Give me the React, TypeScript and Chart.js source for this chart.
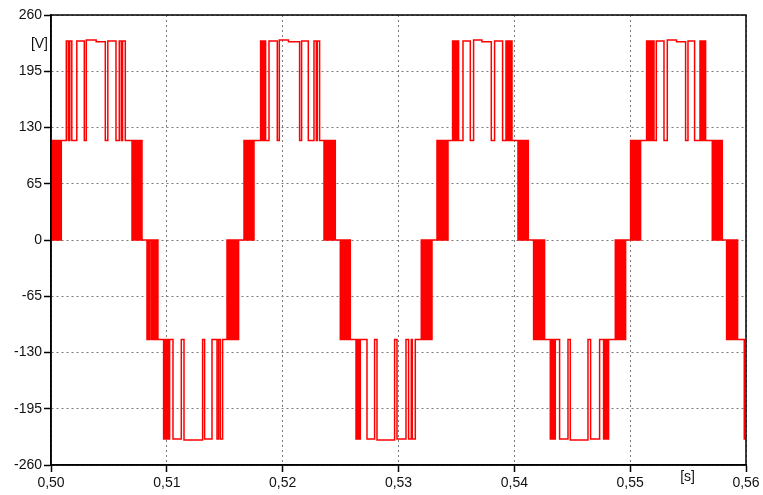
import React, { useEffect, useRef } from "react";
import { Chart, registerables } from "chart.js";

Chart.register(...registerables);

const xTicks = [0.5, 0.51, 0.52, 0.53, 0.54, 0.55, 0.56];
const yTicks = [-260, -195, -130, -65, 0, 65, 130, 195, 260];
const xUnit = "[s]";
const yUnit = "[V]";

type Step = [number, number]; // [time s, voltage V] – value holds from this time to the next

const positive1: Step[] = [
  [0.5, 0], [0.50001, 115], [0.50007, 0], [0.50012, 115], [0.50023, 0], [0.50027, 115], [0.50033, 0],
  [0.50038, 115], [0.50044, 0], [0.50049, 115], [0.5006, 0], [0.50064, 115], [0.5007, 0], [0.50074, 115],
  [0.5008, 0], [0.50083, 115], [0.50086, 0], [0.500889, 115],
  [0.501321, 230], [0.501494, 115], [0.501623, 230], [0.501796, 115],
  [0.502227, 230], [0.502875, 115], [0.503047, 231], [0.5039, 229], [0.504688, 115], [0.504904, 230],
  [0.505611, 115], [0.505896, 230], [0.506069, 115], [0.506181, 230], [0.506414, 115],
  [0.506993, 0], [0.50703, 115], [0.5071, 0], [0.50715, 115], [0.50723, 0], [0.50727, 115], [0.50736, 0],
  [0.5074, 115], [0.5075, 0], [0.50753, 115], [0.50764, 0], [0.50767, 115], [0.50779, 0], [0.50782, 115],
  [0.507856, 0],
];

const negative1: Step[] = [
  [0.508288, -115], [0.50833, 0], [0.50838, -115], [0.50843, 0], [0.50848, -115], [0.50852, 0],
  [0.50866, -115], [0.5087, 0], [0.50876, -115], [0.5088, 0], [0.50886, -115], [0.5089, 0], [0.50895, -115],
  [0.509, 0], [0.50904, -115], [0.50908, 0], [0.50914, -115], [0.50917, 0], [0.50923, -115],
  [0.509721, -230], [0.50977, -115], [0.50981, -230], [0.50987, -115], [0.50991, -230], [0.50997, -115],
  [0.51001, -230], [0.51007, -115], [0.51011, -230], [0.51017, -115], [0.5102, -230], [0.510239, -115],
  [0.510532, -230], [0.511249, -115], [0.511482, -231], [0.513088, -115], [0.51326, -230], [0.513899, -115],
  [0.514331, -230], [0.514469, -115], [0.514616, -230], [0.514814, -115],
  [0.515194, 0], [0.51524, -115], [0.51531, 0], [0.51535, -115], [0.51543, 0], [0.51547, -115], [0.51556, 0],
  [0.5156, -115], [0.5157, 0], [0.51573, -115], [0.51583, 0], [0.51586, -115], [0.51597, 0], [0.516, -115],
  [0.5161, 0], [0.51613, -115], [0.516196, 0],
];

const positive2: Step[] = [
  [0.516662, 115], [0.5167, 0], [0.51676, 115], [0.51681, 0], [0.51687, 115], [0.51692, 0], [0.51698, 115],
  [0.51702, 0], [0.5171, 115], [0.51714, 0], [0.51722, 115], [0.51726, 0], [0.51734, 115], [0.51737, 0],
  [0.51744, 115], [0.51747, 0], [0.517525, 115],
  [0.518095, 230], [0.51814, 115], [0.51818, 230], [0.51823, 115], [0.51827, 230], [0.51833, 115],
  [0.51837, 230], [0.51843, 115], [0.51847, 230], [0.518527, 115],
  [0.51882, 230], [0.519537, 115], [0.519709, 231], [0.5205, 229], [0.521462, 115], [0.521635, 230],
  [0.522213, 115], [0.522705, 230], [0.522904, 115], [0.52299, 230], [0.523189, 115],
  [0.523568, 0], [0.5236, 115], [0.52367, 0], [0.52371, 115], [0.52379, 0], [0.52383, 115], [0.52392, 0],
  [0.52396, 115], [0.52406, 0], [0.52409, 115], [0.5242, 0], [0.52423, 115], [0.52434, 0], [0.52437, 115],
  [0.52448, 0], [0.52451, 115], [0.524544, 0],
];

const negative2: Step[] = [
  [0.524976, -115], [0.52501, 0], [0.52507, -115], [0.52511, 0], [0.52518, -115], [0.52522, 0],
  [0.52529, -115], [0.52533, 0], [0.5254, -115], [0.52544, 0], [0.52552, -115], [0.52556, 0], [0.52564, -115],
  [0.52567, 0], [0.52575, -115], [0.52578, 0], [0.525839, -115],
  [0.526331, -230], [0.5264, -115], [0.52645, -230], [0.5265, -115], [0.52654, -230], [0.5266, -115],
  [0.52664, -230], [0.526702, -115],
  [0.52728, -230], [0.527937, -115], [0.528144, -231], [0.529663, -115], [0.52987, -230], [0.530647, -115],
  [0.530872, -230], [0.531105, -115], [0.531191, -230], [0.53145, -115],
  [0.531968, 0], [0.532, -115], [0.53207, 0], [0.53211, -115], [0.53219, 0], [0.53223, -115], [0.53232, 0],
  [0.53236, -115], [0.53246, 0], [0.53249, -115], [0.5326, 0], [0.53263, -115], [0.53274, 0], [0.53277, -115],
  [0.53285, 0], [0.53287, -115], [0.532892, 0],
];

const positive3: Step[] = [
  [0.533323, 115], [0.53336, 0], [0.53342, 115], [0.53347, 0], [0.53353, 115], [0.53358, 0], [0.53364, 115],
  [0.53368, 0], [0.53376, 115], [0.5338, 0], [0.53388, 115], [0.53392, 0], [0.534, 115], [0.53404, 0],
  [0.53412, 115], [0.53415, 0], [0.53421, 115], [0.53424, 0], [0.534273, 115],
  [0.53467, 230], [0.53472, 115], [0.53476, 230], [0.53482, 115], [0.53486, 230], [0.53492, 115],
  [0.53496, 230], [0.53503, 115], [0.53507, 230], [0.53513, 115], [0.53516, 230], [0.535188, 115],
  [0.535568, 230], [0.536199, 115], [0.536483, 231], [0.5372, 229], [0.538011, 115], [0.538296, 230],
  [0.538987, 115],
  [0.53928, 230], [0.53932, 115], [0.53937, 230], [0.53943, 115], [0.53947, 230], [0.53953, 115],
  [0.53957, 230], [0.53964, 115], [0.53968, 230], [0.53974, 115], [0.53977, 230], [0.539798, 115],
  [0.540316, 0], [0.54035, 115], [0.54042, 0], [0.54046, 115], [0.54054, 0], [0.54058, 115], [0.54067, 0],
  [0.54071, 115], [0.54081, 0], [0.54084, 115], [0.54095, 0], [0.54098, 115], [0.54109, 0], [0.54112, 115],
  [0.541206, 0],
];

const negative3: Step[] = [
  [0.541663, -115], [0.5417, 0], [0.54176, -115], [0.54181, 0], [0.54187, -115], [0.54192, 0],
  [0.54198, -115], [0.54202, 0], [0.5421, -115], [0.54214, 0], [0.54222, -115], [0.54226, 0], [0.54234, -115],
  [0.54238, 0], [0.54246, -115], [0.54249, 0], [0.54256, -115], [0.54259, 0], [0.542613, -115],
  [0.543105, -230], [0.54316, -115], [0.5432, -230], [0.54326, -115], [0.5433, -230], [0.54337, -115],
  [0.54341, -230], [0.54347, -115], [0.5435, -230], [0.543536, -115],
  [0.543907, -230], [0.544633, -115], [0.544831, -231], [0.546359, -115], [0.546584, -230], [0.547361, -115],
  [0.547706, -230], [0.54775, -115], [0.54779, -230], [0.54785, -115], [0.54789, -230], [0.54796, -115],
  [0.548, -230], [0.54807, -115], [0.5481, -230], [0.548138, -115],
  [0.548716, 0], [0.54875, -115], [0.54882, 0], [0.54886, -115], [0.54894, 0], [0.54898, -115], [0.54907, 0],
  [0.54911, -115], [0.54921, 0], [0.54924, -115], [0.54935, 0], [0.54938, -115], [0.54949, 0], [0.54952, -115],
  [0.549606, 0],
];

const positive4: Step[] = [
  [0.550037, 115], [0.55007, 0], [0.55013, 115], [0.55018, 0], [0.55024, 115], [0.55029, 0], [0.55035, 115],
  [0.55039, 0], [0.55047, 115], [0.55051, 0], [0.55059, 115], [0.55063, 0], [0.55071, 115], [0.55074, 0],
  [0.55081, 115], [0.55084, 0], [0.550901, 115],
  [0.551418, 230], [0.55147, 115], [0.55151, 230], [0.55157, 115], [0.55161, 230], [0.55167, 115],
  [0.55171, 230], [0.55178, 115], [0.55182, 230], [0.55188, 115], [0.55192, 230], [0.55199, 115],
  [0.55202, 230], [0.552057, 115],
  [0.552256, 230], [0.55292, 115], [0.553205, 231], [0.554, 229], [0.554785, 115], [0.554992, 230],
  [0.555562, 115],
  [0.556028, 230], [0.55607, 115], [0.55611, 230], [0.55617, 115], [0.55621, 230], [0.55628, 115],
  [0.55632, 230], [0.55639, 115], [0.55643, 230], [0.556512, 115],
  [0.55709, 0], [0.55713, 115], [0.5572, 0], [0.55724, 115], [0.55732, 0], [0.55736, 115], [0.55745, 0],
  [0.55749, 115], [0.55759, 0], [0.55762, 115], [0.55773, 0], [0.55776, 115], [0.55787, 0], [0.5579, 115],
  [0.557954, 0],
];

const negative4: Step[] = [
  [0.558325, -115], [0.55836, 0], [0.55842, -115], [0.55847, 0], [0.55853, -115], [0.55858, 0],
  [0.55864, -115], [0.55868, 0], [0.55876, -115], [0.5588, 0], [0.55888, -115], [0.55892, 0], [0.559, -115],
  [0.55904, 0], [0.55912, -115], [0.55915, 0], [0.55921, -115], [0.55924, 0], [0.559274, -115],
  [0.55985, -230], [0.56, -230],
];

const voltageSteps: Step[] = [
  ...positive1, ...negative1, ...positive2, ...negative2,
  ...positive3, ...negative3, ...positive4, ...negative4,
];

const FONT = '"Liberation Sans", Arial, sans-serif';

const framePlugin = {
  id: "frameAndUnits",
  afterDraw(chart: any) {
    const { ctx, chartArea: a } = chart;
    ctx.save();
    ctx.strokeStyle = "#000";
    ctx.lineWidth = 1.5;
    ctx.setLineDash([]);
    ctx.strokeRect(a.left, a.top, a.right - a.left, a.bottom - a.top);
    ctx.fillStyle = "#111";
    ctx.font = `14px ${FONT}`;
    ctx.textBaseline = "middle";
    ctx.textAlign = "right";
    ctx.fillText(yUnit, a.left - 3, a.top + 29);
    ctx.textAlign = "center";
    ctx.fillText(xUnit, a.left + (a.right - a.left) * 0.916, a.bottom + 12);
    ctx.restore();
  },
};

export default function App() {
  const canvasRef = useRef<HTMLCanvasElement | null>(null);

  useEffect(() => {
    const canvas = canvasRef.current;
    if (!canvas) return;
    const chart = new Chart(canvas, {
      type: "line",
      data: {
        datasets: [
          {
            data: voltageSteps.map(([x, y]) => ({ x, y })),
            borderColor: "#ff0000",
            borderWidth: 1.5,
            pointRadius: 0,
            fill: false,
            stepped: "before",
            tension: 0,
          },
        ],
      },
      options: {
        animation: false,
        responsive: false,
        devicePixelRatio: 1,
        layout: { padding: { left: 0, top: 15, right: 17, bottom: 0 } },
        plugins: { legend: { display: false }, tooltip: { enabled: false } },
        scales: {
          x: {
            type: "linear",
            min: 0.5,
            max: 0.56,
            afterBuildTicks: (scale: any) => {
              scale.ticks = xTicks.map((v) => ({ value: v }));
            },
            afterFit: (scale: any) => {
              scale.height = 30;
            },
            ticks: {
              autoSkip: false,
              maxRotation: 0,
              padding: 3,
              color: "#111",
              font: { family: FONT, size: 14 },
              callback: (v: any) => Number(v).toFixed(2).replace(".", ","),
            },
            grid: {
              color: "#7a7a7a",
              lineWidth: 1,
              tickColor: "#000",
              tickLength: 7,
              tickWidth: 1.5,
              tickBorderDash: [],
            },
            border: { display: true, color: "#000", width: 1.5, dash: [2, 3] },
          },
          y: {
            type: "linear",
            min: -260,
            max: 260,
            afterBuildTicks: (scale: any) => {
              scale.ticks = yTicks.map((v) => ({ value: v }));
            },
            afterFit: (scale: any) => {
              scale.width = 51;
            },
            ticks: {
              autoSkip: false,
              padding: 2,
              color: "#111",
              font: { family: FONT, size: 14 },
              callback: (v: any) => String(v),
            },
            grid: {
              color: "#7a7a7a",
              lineWidth: 1,
              tickColor: "#000",
              tickLength: 7,
              tickWidth: 1.5,
              tickBorderDash: [],
            },
            border: { display: true, color: "#000", width: 1.5, dash: [2, 3] },
          },
        },
      },
      plugins: [framePlugin],
    });
    return () => chart.destroy();
  }, []);

  return (
    <div style={{ position: "fixed", left: 0, top: 0, width: 763, height: 495, background: "#fff" }}>
      <canvas ref={canvasRef} width={763} height={495} style={{ display: "block" }} />
    </div>
  );
}
